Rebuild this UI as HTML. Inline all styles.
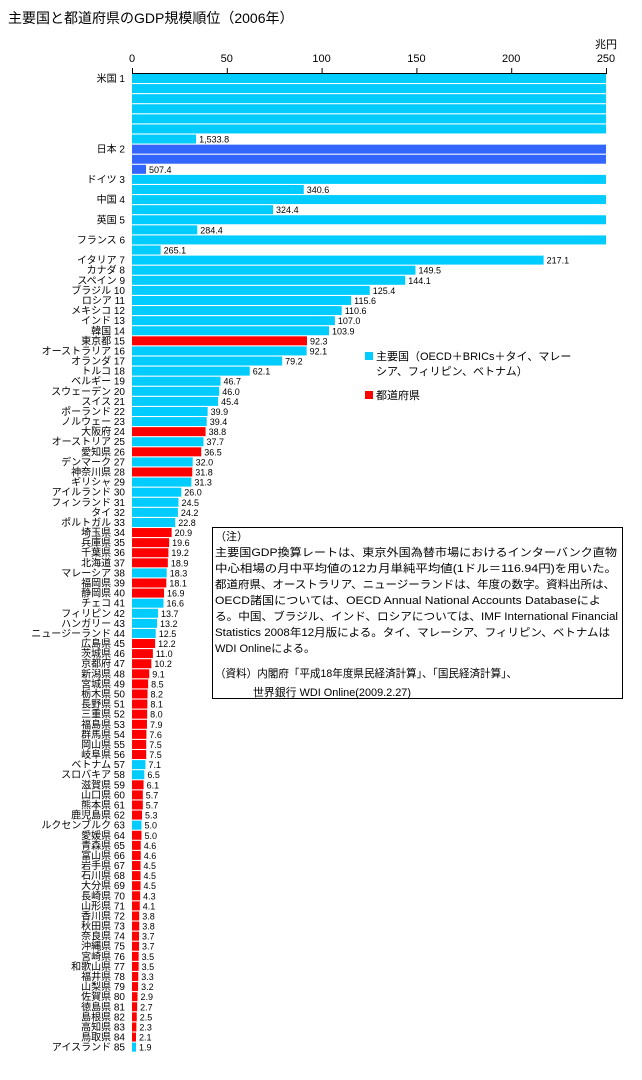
<!DOCTYPE html>
<html><head><meta charset="utf-8">
<style>
body{margin:0;background:#fff;}
svg text{font-family:"Liberation Sans","Noto Sans CJK JP",sans-serif;}
</style></head>
<body>
<svg id="c" width="642" height="1075" xmlns="http://www.w3.org/2000/svg">
<text x="8" y="23" font-size="14">主要国と都道府県のGDP規模順位（2006年）</text>
<text x="606" y="48" font-size="11" text-anchor="middle">兆円</text>
<g id="axis"></g>
<g id="bars"></g>
<g>
<rect x="365" y="352" width="8" height="8" fill="#00ccff"/>
<text x="376" y="360" font-size="11">主要国（OECD＋BRICs＋タイ、マレー</text>
<text x="376" y="375" font-size="11">シア、フィリピン、ベトナム）</text>
<rect x="365" y="391" width="8" height="8" fill="#ff0000"/>
<text x="376" y="399" font-size="11">都道府県</text>
</g>
<g>
<rect x="212.5" y="527.5" width="410" height="171" fill="#fff" stroke="#000"/>
<g font-size="11">
<text x="215" y="540">（注）</text>
<text x="215" y="556" textLength="402" lengthAdjust="spacingAndGlyphs">主要国GDP換算レートは、東京外国為替市場におけるインターバンク直物</text>
<text x="215" y="572" textLength="402" lengthAdjust="spacingAndGlyphs">中心相場の月中平均値の12カ月単純平均値(1ドル＝116.94円)を用いた。</text>
<text x="215" y="588" textLength="400" lengthAdjust="spacingAndGlyphs">都道府県、オーストラリア、ニュージーランドは、年度の数字。資料出所は、</text>
<text x="215" y="604" textLength="386" lengthAdjust="spacingAndGlyphs">OECD諸国については、OECD Annual National Accounts Databaseによ</text>
<text x="215" y="620" textLength="403" lengthAdjust="spacingAndGlyphs">る。中国、ブラジル、インド、ロシアについては、IMF International Financial</text>
<text x="215" y="636" textLength="395" lengthAdjust="spacingAndGlyphs">Statistics 2008年12月版による。タイ、マレーシア、フィリピン、ベトナムは</text>
<text x="215" y="652" textLength="100" lengthAdjust="spacingAndGlyphs">WDI Onlineによる。</text>
<text x="215" y="677" textLength="302" lengthAdjust="spacingAndGlyphs">（資料）内閣府「平成18年度県民経済計算」、「国民経済計算」、</text>
<text x="253" y="696" textLength="158" lengthAdjust="spacingAndGlyphs">世界銀行 WDI Online(2009.2.27)</text>
</g>
</g>
</svg>
<script>
const names=["米国","日本","ドイツ","中国","英国","フランス","イタリア","カナダ","スペイン","ブラジル","ロシア","メキシコ","インド","韓国","東京都","オーストラリア","オランダ","トルコ","ベルギー","スウェーデン","スイス","ポーランド","ノルウェー","大阪府","オーストリア","愛知県","デンマーク","神奈川県","ギリシャ","アイルランド","フィンランド","タイ","ポルトガル","埼玉県","兵庫県","千葉県","北海道","マレーシア","福岡県","静岡県","チェコ","フィリピン","ハンガリー","ニュージーランド","広島県","茨城県","京都府","新潟県","宮城県","栃木県","長野県","三重県","福島県","群馬県","岡山県","岐阜県","ベトナム","スロバキア","滋賀県","山口県","熊本県","鹿児島県","ルクセンブルク","愛媛県","青森県","富山県","岩手県","石川県","大分県","長崎県","山形県","香川県","秋田県","奈良県","沖縄県","宮崎県","和歌山県","福井県","山梨県","佐賀県","徳島県","島根県","高知県","鳥取県","アイスランド"];
const values=[1533.8,507.4,340.6,324.4,284.4,265.1,217.1,149.5,144.1,125.4,115.6,110.6,107.0,103.9,92.3,92.1,79.2,62.1,46.7,46.0,45.4,39.9,39.4,38.8,37.7,36.5,32.0,31.8,31.3,26.0,24.5,24.2,22.8,20.9,19.6,19.2,18.9,18.3,18.1,16.9,16.6,13.7,13.2,12.5,12.2,11.0,10.2,9.1,8.5,8.2,8.1,8.0,7.9,7.6,7.5,7.5,7.1,6.5,6.1,5.7,5.7,5.3,5.0,5.0,4.6,4.6,4.5,4.5,4.5,4.3,4.1,3.8,3.8,3.7,3.7,3.5,3.5,3.3,3.2,2.9,2.7,2.5,2.3,2.1,1.9];
const types=("cjcccccccccccc"+"r"+"cccccccc"+"r"+"c"+"r"+"c"+"r"+"ccccc"+"rrrr"+"c"+"rr"+"cccc"+"rrrrrrrrrrrr"+"cc"+"rrrr"+"c"+"rrrrrrrrrrrrrrrrrrrrr"+"c").split("");
const ticks=[0,50,100,150,200,250];
const NS="http://www.w3.org/2000/svg";
const X0=132,X1=606,MAX=250,ROW=10.09,Y0=74;
const x=v=>X0+(v/MAX)*(X1-X0);
const colors={c:"#00ccff",j:"#3366ff",r:"#ff0000"};
function mk(tag,attrs,parent){const e=document.createElementNS(NS,tag);for(const k in attrs)e.setAttribute(k,attrs[k]);parent.appendChild(e);return e;}
const ax=document.getElementById('axis');
let l=mk('line',{x1:X0,y1:73.5,x2:X1,y2:73.5,stroke:'#000'},ax);


ticks.forEach(t=>{
 const tl=mk('line',{x1:x(t)+0.5,y1:68,x2:x(t)+0.5,y2:74,stroke:'#000'},ax);
 
 
 const tx=mk('text',{x:x(t),y:62,'font-size':11,'text-anchor':'middle'},ax);
 tx.textContent=t;
 
 
});
const g=document.getElementById('bars');
let row=0;
values.forEach((v,i)=>{
 const full=Math.floor(v/MAX);
 const rem=v-full*MAX;
 const col=colors[types[i]]||"#00ccff";
 const lab=mk('text',{x:125,y:Y0+row*ROW+8,'font-size':10,'text-anchor':'end'},g);
 lab.textContent=names[i]+" "+(i+1);
 
 
 for(let k=0;k<=full;k++){
  const w=k<full?x(MAX)-X0:x(rem)-X0;
  const y=Y0+row*ROW;
  const r=mk('rect',{x:X0,y:y,width:Math.max(w,4),height:9,fill:col},g);
  
  
  if(k===full){
   const t=mk('text',{x:X0+Math.max(w,4)+3,y:y+8,'font-size':9},g);
   t.textContent=v>=1000?v.toLocaleString('en-US',{minimumFractionDigits:1}):v.toFixed(1);
   
   
  }
  row++;
 }
});
</script>
</body></html>
